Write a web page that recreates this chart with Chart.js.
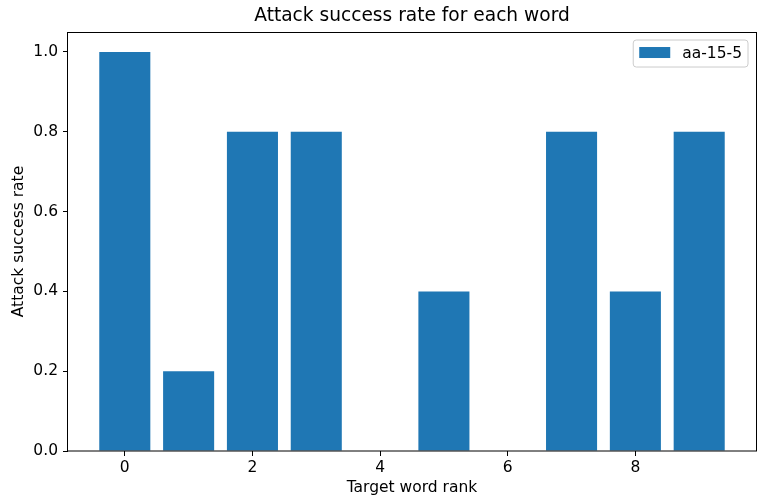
<!DOCTYPE html>
<html>
<head>
<meta charset="utf-8">
<script src="https://cdn.jsdelivr.net/npm/chart.js@4/dist/chart.umd.min.js"></script>
<style>
  html, body { margin: 0; padding: 0; background: #ffffff; }
  canvas { display: block; }
</style>
</head>
<body>
<canvas id="chart" width="760" height="501"></canvas>
<script>
// Target word ranks and the attack success rate measured for each one
const ranks = [0, 1, 2, 3, 4, 5, 6, 7, 8, 9];
const successRates = [1.0, 0.2, 0.8, 0.8, 0.0, 0.4, 0.0, 0.8, 0.4, 0.8];
const seriesName = 'aa-15-5';
const xTickValues = [0, 2, 4, 6, 8];
const yTickValues = [0.0, 0.2, 0.4, 0.6, 0.8, 1.0];

const FONT = 'DejaVu Sans';
const LABEL_SIZE = 15.5;
const TITLE_SIZE = 18.6;
const BAR_BLUE = '#1f77b4';

// Closed frame around the plot plus a boxed legend in the upper-right corner
const frameAndLegend = {
  id: 'frameAndLegend',
  afterDatasetsDraw(chart) {
    const { ctx, chartArea: a } = chart;
    ctx.save();
    ctx.strokeStyle = '#000';
    ctx.lineWidth = 1;
    ctx.strokeRect(Math.round(a.left) - 0.5, Math.round(a.top) + 0.5,
                   Math.round(a.right - a.left) + 1, Math.round(a.bottom - a.top) - 0.5);

    const ds = chart.data.datasets[0];
    ctx.font = LABEL_SIZE + 'px "' + FONT + '"';
    const textW = ctx.measureText(ds.label).width;
    const boxW = 6 + 31 + 12 + textW + 6;
    const boxH = 27;
    const bx = a.right - 8 - boxW;
    const by = a.top + 8;
    const r = 3;
    ctx.beginPath();
    ctx.moveTo(bx + r, by);
    ctx.lineTo(bx + boxW - r, by);
    ctx.arcTo(bx + boxW, by, bx + boxW, by + r, r);
    ctx.lineTo(bx + boxW, by + boxH - r);
    ctx.arcTo(bx + boxW, by + boxH, bx + boxW - r, by + boxH, r);
    ctx.lineTo(bx + r, by + boxH);
    ctx.arcTo(bx, by + boxH, bx, by + boxH - r, r);
    ctx.lineTo(bx, by + r);
    ctx.arcTo(bx, by, bx + r, by, r);
    ctx.closePath();
    ctx.fillStyle = 'rgba(255,255,255,0.8)';
    ctx.fill();
    ctx.strokeStyle = '#cccccc';
    ctx.stroke();

    ctx.fillStyle = ds.backgroundColor;
    ctx.fillRect(bx + 6, by + 7, 31, 11);
    ctx.fillStyle = '#000';
    ctx.textBaseline = 'middle';
    ctx.textAlign = 'left';
    ctx.fillText(ds.label, bx + 6 + 31 + 12, by + boxH / 2);
    ctx.restore();
  }
};

new Chart(document.getElementById('chart'), {
  type: 'bar',
  data: {
    datasets: [{
      label: seriesName,
      data: ranks.map((r, i) => ({ x: r, y: successRates[i] })),
      backgroundColor: BAR_BLUE,
      borderWidth: 0,
      barPercentage: 0.8,
      categoryPercentage: 1.0
    }]
  },
  options: {
    responsive: false,
    animation: false,
    devicePixelRatio: 1,
    layout: { padding: { left: 0, right: 4, top: 0, bottom: 0 } },
    plugins: {
      legend: { display: false },
      tooltip: { enabled: false },
      title: {
        display: true,
        text: 'Attack success rate for each word',
        color: '#000',
        fullSize: false,
        font: { family: FONT, size: TITLE_SIZE, weight: 'normal' },
        padding: { top: 5, bottom: 4.7 }
      }
    },
    scales: {
      x: {
        type: 'linear',
        min: -0.89,
        max: 9.89,
        offset: false,
        afterBuildTicks(scale) { scale.ticks = xTickValues.map(v => ({ value: v })); },
        afterFit(scale) { scale.height = 50; },
        grid: { offset: false, drawOnChartArea: false, drawTicks: true, tickLength: 5, tickColor: '#000', tickWidth: 1 },
        border: { display: false },
        ticks: {
          color: '#000',
          padding: 3,
          maxRotation: 0,
          font: { family: FONT, size: LABEL_SIZE },
          callback: v => String(v)
        },
        title: {
          display: true,
          text: 'Target word rank',
          color: '#000',
          font: { family: FONT, size: LABEL_SIZE },
          padding: { top: 0, bottom: 3.7 }
        }
      },
      y: {
        min: 0,
        max: 1.05,
        afterBuildTicks(scale) { scale.ticks = yTickValues.map(v => ({ value: v })); },
        afterFit(scale) { scale.width = 68; },
        grid: { offset: false, drawOnChartArea: false, drawTicks: true, tickLength: 5, tickColor: '#000', tickWidth: 1 },
        border: { display: false },
        ticks: {
          color: '#000',
          padding: 5,
          font: { family: FONT, size: LABEL_SIZE },
          callback: v => Number(v).toFixed(1)
        },
        title: {
          display: true,
          text: 'Attack success rate',
          color: '#000',
          font: { family: FONT, size: LABEL_SIZE },
          padding: { top: 10, bottom: 0 }
        }
      }
    }
  },
  plugins: [frameAndLegend]
});
</script>
</body>
</html>
